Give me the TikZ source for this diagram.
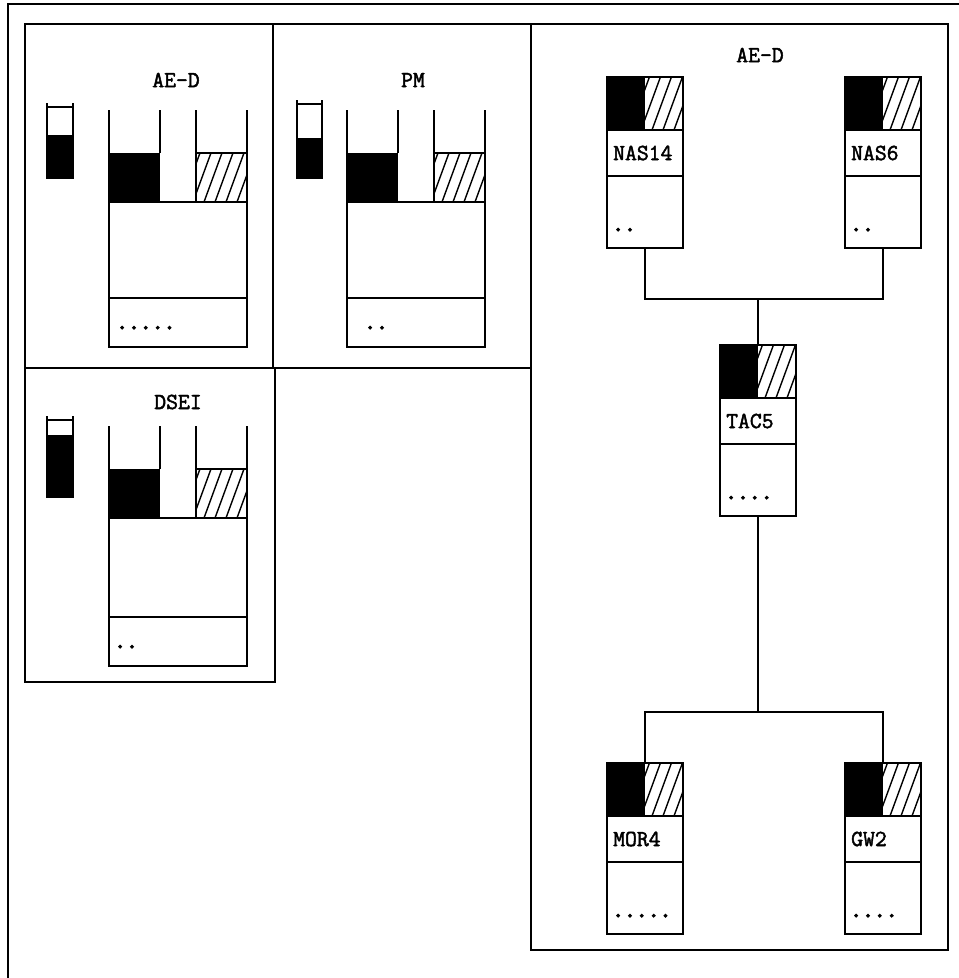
\documentclass[tikz,border=0pt]{standalone}
\usepackage{fontspec}
\newfontfamily\twfont[FakeBold=2]{Latin Modern Mono}
\newfontfamily\dotfont[FakeBold=5]{Latin Modern Mono}
\tikzset{
  ln/.style={line width=1.8pt},
  hl/.style={line width=1.4pt},
  box/.style={draw, line width=1.8pt, rectangle, inner sep=0pt, outer sep=0pt, anchor=north west},
  lbl/.style={font=\twfont\fontsize{23}{23}\selectfont, inner sep=0pt},
  dots/.style={font=\dotfont\fontsize{23}{23}\selectfont, inner sep=0pt},
}
\newcommand\hatchbox[4]{%
  \begin{scope}
    \clip (#1,#2) rectangle (#3,#4);
    \foreach \k in {-36,-25,...,60} \draw[hl] (#1+\k,#4) -- ++(22,-60);
  \end{scope}
  \draw[ln] (#1,#2) rectangle (#3,#4);
}
\newcommand\unitR[5]{% name x y0 label dots
  \fill (#2,#3) rectangle (#2+37,#3+53);
  \hatchbox{#2+37}{#3}{#2+76}{#3+53}
  \node[box, minimum width=76pt, minimum height=53pt] (#1-t) at (#2,#3) {};
  \node[box, minimum width=76pt, minimum height=46pt] (#1) at (#2,#3+53) {};
  \node[lbl, anchor=west] at ([xshift=6pt]#1.west) {#4};
  \node[box, minimum width=76pt, minimum height=72pt] (#1-b) at (#2,#3+99) {};
  \node[dots, anchor=base west] at ([xshift=5pt,yshift=17pt]#1-b.south west) {#5};
}
\newcommand\cupunit[6]{% name x yb bodyh dots dotshift
  \draw[ln] (#2,#3-92) -- (#2,#3);
  \draw[ln] (#2+51,#3-92) -- (#2+51,#3-49);
  \draw[ln] (#2+87,#3-92) -- (#2+87,#3);
  \draw[ln] (#2+138,#3-92) -- (#2+138,#3);
  \fill (#2,#3-49) rectangle (#2+51,#3);
  \hatchbox{#2+87}{#3-49}{#2+138}{#3}
  \node[box, minimum width=138pt, minimum height=#4pt] (#1) at (#2,#3) {};
  \node[box, minimum width=138pt, minimum height=49pt] (#1-d) at (#1.south west) {};
  \node[dots, anchor=base west] at ([xshift=#6pt, yshift=18pt]#1-d.south west) {#5};
}
\newcommand\gauge[5]{% x1 x2 ytop yblack ybot
  \fill (#1,#4) rectangle (#2,#5);
  \draw[ln] (#1,#3-4) -- (#1,#5) -- (#2,#5) -- (#2,#3-4);
  \draw[ln] (#1,#3) -- (#2,#3);
}
\begin{document}
\begin{tikzpicture}[x=1pt,y=-1pt]
\useasboundingbox (0,0) rectangle (959,978);
\fill[white] (0,0) rectangle (959,978);
% outer frame
\draw[ln] (8,978) -- (8,4) -- (959,4);
% panels
\draw[ln] (25,24) rectangle (273,368);
\draw[ln] (273,24) rectangle (531,368);
\draw[ln] (25,368) rectangle (275,682);
\draw[ln] (531,24) rectangle (948,950);
% titles
\node[lbl] (t1) at (176,80) {AE-D};
\node[lbl] (t2) at (413,80) {PM};
\node[lbl] (t3) at (178,402) {DSEI};
\node[lbl] (t4) at (760,55) {AE-D};
% gauges
\gauge{47}{73}{107}{135}{178}
\gauge{297}{322}{104}{138}{178}
\gauge{47}{73}{420}{435}{497}
% cup units
\cupunit{aed}{109}{202}{96}{.....}{7}
\cupunit{pm}{347}{202}{96}{..}{17}
\cupunit{dsei}{109}{518}{99}{..}{5}
% right panel units
\unitR{nas14}{607}{77}{NAS14}{..}
\unitR{nas6}{845}{77}{NAS6}{..}
\unitR{tac5}{720}{345}{TAC5}{....}
\unitR{mor4}{607}{763}{MOR4}{.....}
\unitR{gw2}{845}{763}{GW2}{....}
% connectors
\coordinate (j1) at (758,299);
\coordinate (j2) at (758,712);
\draw[ln] (nas14-b.south) |- (j1) -| (nas6-b.south);
\draw[ln] (j1) -- (tac5-t.north);
\draw[ln] (tac5-b.south) -- (j2);
\draw[ln] (mor4-t.north) |- (j2) -| (gw2-t.north);
\end{tikzpicture}
\end{document}
